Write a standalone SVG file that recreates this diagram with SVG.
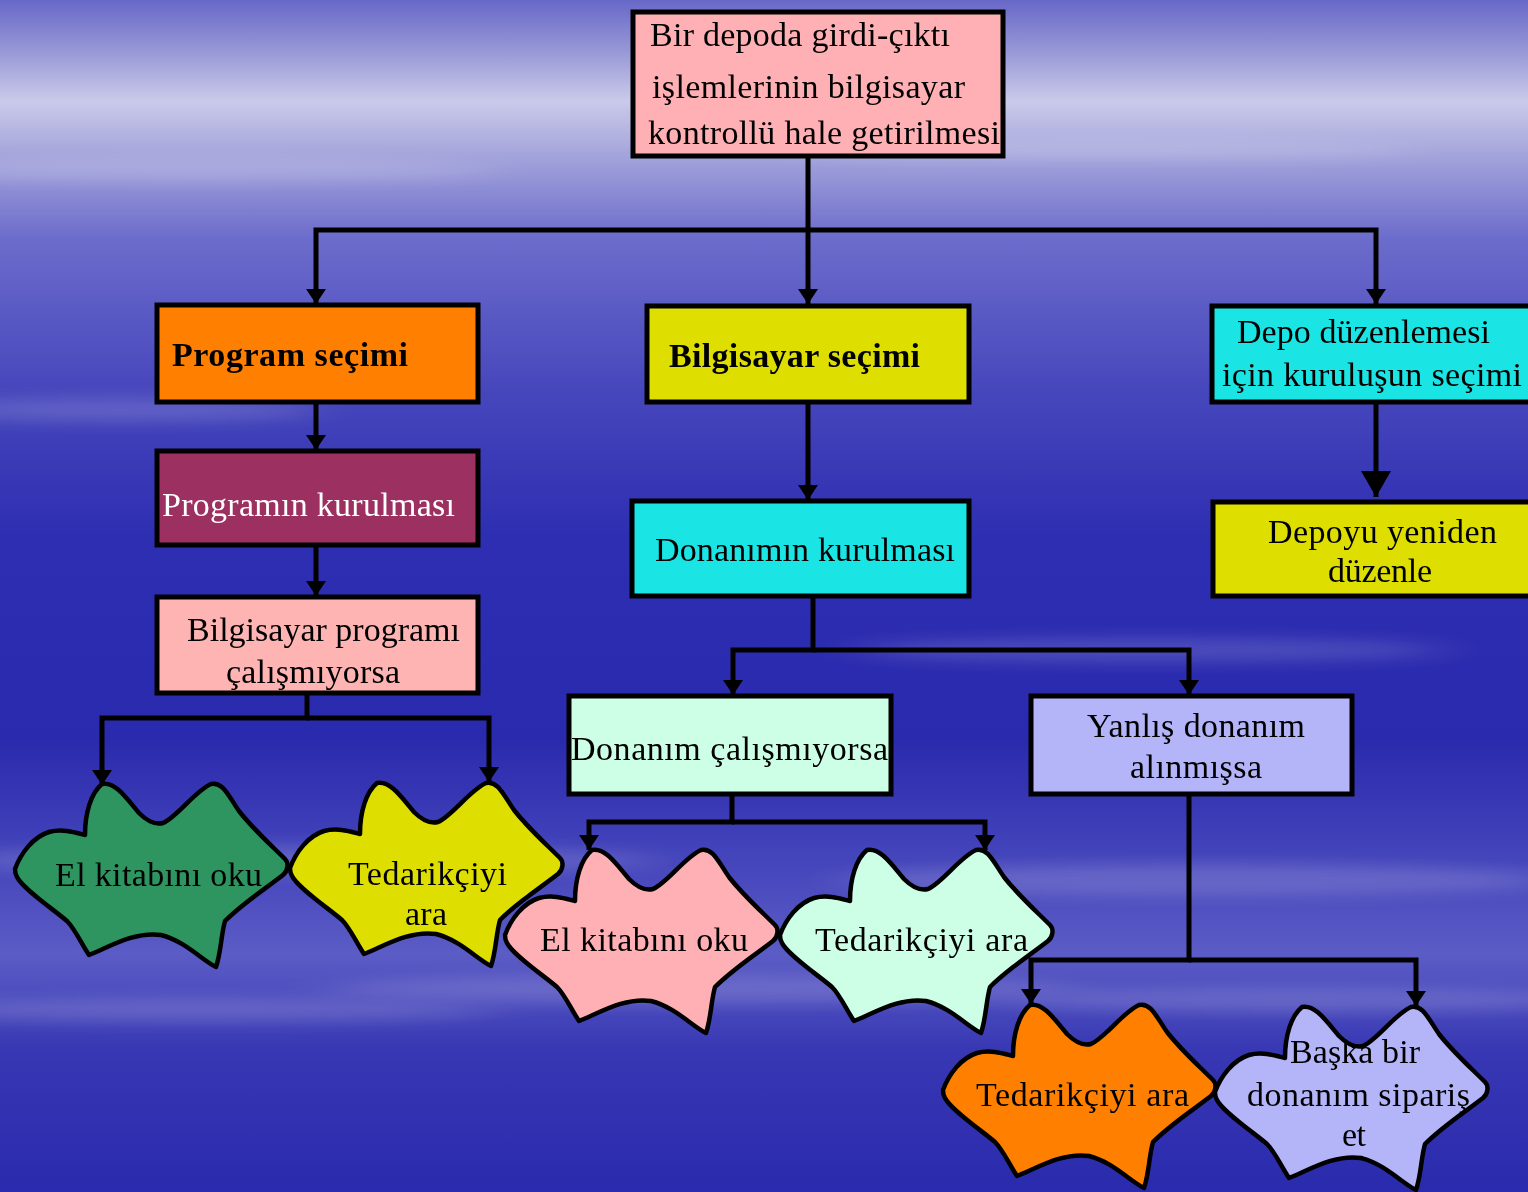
<svg xmlns="http://www.w3.org/2000/svg" width="1528" height="1192" viewBox="0 0 1528 1192">
<defs>
<linearGradient id="bg" x1="0" y1="0" x2="0" y2="1">
<stop offset="0" stop-color="#6868c8"/>
<stop offset="0.04" stop-color="#9494d6"/>
<stop offset="0.085" stop-color="#cacaea"/>
<stop offset="0.13" stop-color="#a4a4dc"/>
<stop offset="0.2" stop-color="#6c6ccc"/>
<stop offset="0.33" stop-color="#4646bc"/>
<stop offset="0.45" stop-color="#2e2eb2"/>
<stop offset="0.62" stop-color="#2a2aae"/>
<stop offset="0.74" stop-color="#4a4abe"/>
<stop offset="0.8" stop-color="#5c5cc6"/>
<stop offset="0.88" stop-color="#3838b4"/>
<stop offset="1" stop-color="#2a2aae"/>
</linearGradient>
<filter id="blur" x="-30%" y="-300%" width="160%" height="700%">
<feGaussianBlur stdDeviation="30 8"/>
</filter>
<marker id="arr" markerUnits="userSpaceOnUse" markerWidth="22" markerHeight="22" refX="15" refY="10" orient="auto">
<path d="M0,0 L15,10 L0,20 Z" fill="#000"/>
</marker>
<marker id="arrBig" markerUnits="userSpaceOnUse" markerWidth="30" markerHeight="30" refX="26" refY="15" orient="auto">
<path d="M0,0 L26,15 L0,30 Z" fill="#000"/>
</marker>
<path id="wave" d="M0,86 C6,70 18,54 34,49 C48,45 62,50 70,52 C70,30 76,10 87,1 C100,-2 112,16 124,30 C132,38 140,42 148,40 C162,34 180,8 196,1 C208,-2 214,14 224,28 C238,46 256,62 270,76 C274,80 273,88 268,92 C250,106 228,120 210,138 C206,152 206,170 201,184 C188,178 170,158 146,152 C120,148 94,164 74,172 C66,160 60,146 52,138 C38,126 8,106 2,94 C0,91 0,88 0,86 Z"/>
</defs>
<style>
.box{stroke:#000;stroke-width:5}
.wv{stroke:#000;stroke-width:4.5;stroke-linejoin:round}
.t{font-family:"Liberation Serif","Times New Roman",serif;font-size:34px;fill:#000}
.b{font-weight:bold}
.w{fill:#fff}
.c{fill:none;stroke:#000;stroke-width:5}
.streak{fill:#fff;filter:url(#blur)}
</style>
<rect x="0" y="0" width="1528" height="1192" fill="url(#bg)"/>
<g opacity="0.16">
<ellipse class="streak" cx="200" cy="170" rx="300" ry="12"/>
<ellipse class="streak" cx="1100" cy="150" rx="320" ry="10"/>
<ellipse class="streak" cx="120" cy="410" rx="200" ry="12"/>
<ellipse class="streak" cx="1150" cy="650" rx="300" ry="12"/>
<ellipse class="streak" cx="300" cy="860" rx="360" ry="14"/>
<ellipse class="streak" cx="1200" cy="880" rx="360" ry="16"/>
<ellipse class="streak" cx="700" cy="990" rx="380" ry="14"/>
<ellipse class="streak" cx="200" cy="1010" rx="300" ry="12"/>
<ellipse class="streak" cx="1300" cy="1000" rx="300" ry="12"/>
</g>

<g id="n-root">
<rect class="box" x="633" y="12" width="370" height="144" fill="#ffb0b4"/>
<text class="t" x="650" y="46" textLength="300">Bir depoda girdi-çıktı</text>
<text class="t" x="652" y="98" textLength="313">işlemlerinin bilgisayar</text>
<text class="t" x="648" y="144" textLength="352">kontrollü hale getirilmesi</text>
</g>

<g id="n-program">
<rect class="box" x="157" y="305" width="321" height="97" fill="#ff8000"/>
<text class="t b" x="172" y="366" textLength="236">Program seçimi</text>
</g>

<g id="n-bilgisayar">
<rect class="box" x="647" y="306" width="322" height="96" fill="#dede00"/>
<text class="t b" x="669" y="367" textLength="251">Bilgisayar seçimi</text>
</g>

<g id="n-depo">
<rect class="box" x="1212" y="306" width="330" height="96" fill="#1ae4e4"/>
<text class="t" x="1237" y="343" textLength="253">Depo düzenlemesi</text>
<text class="t" x="1222" y="386" textLength="300">için kuruluşun seçimi</text>
</g>

<g id="n-programkur">
<rect class="box" x="157" y="451" width="321" height="94" fill="#9c3060"/>
<text class="t w" x="162" y="516" textLength="293">Programın kurulması</text>
</g>

<g id="n-programcalis">
<rect class="box" x="157" y="597" width="321" height="96" fill="#ffb4b4"/>
<text class="t" x="187" y="641" textLength="273">Bilgisayar programı</text>
<text class="t" x="226" y="683" textLength="174">çalışmıyorsa</text>
</g>

<g id="n-donanimkur">
<rect class="box" x="632" y="501" width="337" height="95" fill="#1ae4e4"/>
<text class="t" x="655" y="561" textLength="300">Donanımın kurulması</text>
</g>

<g id="n-depoyu">
<rect class="box" x="1213" y="502" width="330" height="94" fill="#dede00"/>
<text class="t" x="1268" y="543" textLength="229">Depoyu yeniden</text>
<text class="t" x="1328" y="582" textLength="104">düzenle</text>
</g>

<g id="n-donanimcalis">
<rect class="box" x="569" y="696" width="322" height="98" fill="#ccffe6"/>
<text class="t" x="571" y="760" textLength="317">Donanım çalışmıyorsa</text>
</g>

<g id="n-yanlis">
<rect class="box" x="1031" y="696" width="321" height="98" fill="#b4b4f8"/>
<text class="t" x="1087" y="737" textLength="218">Yanlış donanım</text>
<text class="t" x="1130" y="778" textLength="132">alınmışsa</text>
</g>

<g id="n-elkitabi1">
<use href="#wave" class="wv" x="15" y="783" fill="#2e9460"/>
<text class="t" x="55" y="886" textLength="207">El kitabını oku</text>
</g>

<g id="n-tedarik1">
<use href="#wave" class="wv" x="290" y="782" fill="#dede00"/>
<text class="t" x="348" y="885" textLength="159">Tedarikçiyi</text>
<text class="t" x="405" y="925" textLength="42">ara</text>
</g>

<g id="n-elkitabi2">
<use href="#wave" class="wv" x="505" y="849" fill="#ffb0b4"/>
<text class="t" x="540" y="951" textLength="208">El kitabını oku</text>
</g>

<g id="n-tedarik2">
<use href="#wave" class="wv" x="780" y="849" fill="#ccffe6"/>
<text class="t" x="815" y="951" textLength="213">Tedarikçiyi ara</text>
</g>

<g id="n-tedarik3">
<use href="#wave" class="wv" x="943" y="1004" fill="#ff8000"/>
<text class="t" x="976" y="1106" textLength="213">Tedarikçiyi ara</text>
</g>

<g id="n-baska">
<use href="#wave" class="wv" x="1215" y="1006" fill="#b4b4f8"/>
<text class="t" x="1290" y="1063" textLength="130">Başka bir</text>
<text class="t" x="1247" y="1106" textLength="223">donanım sipariş</text>
<text class="t" x="1342" y="1146" textLength="24">et</text>
</g>

<g id="connectors">
<path class="c" d="M808,157 V304" marker-end="url(#arr)"/>
<path class="c" d="M808,230 H316 V304" marker-end="url(#arr)"/>
<path class="c" d="M808,230 H1376 V304" marker-end="url(#arr)"/>
<path class="c" d="M316,403 V450" marker-end="url(#arr)"/>
<path class="c" d="M316,546 V596" marker-end="url(#arr)"/>
<path class="c" d="M307,694 V718 H102 V785" marker-end="url(#arr)"/>
<path class="c" d="M307,718 H489 V782" marker-end="url(#arr)"/>
<path class="c" d="M808,402 V500" marker-end="url(#arr)"/>
<path class="c" d="M1376,403 V497" marker-end="url(#arrBig)"/>
<path class="c" d="M813,597 V650 H733 V695" marker-end="url(#arr)"/>
<path class="c" d="M813,650 H1189 V695" marker-end="url(#arr)"/>
<path class="c" d="M732,795 V822 H589 V850" marker-end="url(#arr)"/>
<path class="c" d="M732,822 H985 V850" marker-end="url(#arr)"/>
<path class="c" d="M1189,795 V960 H1031 V1004" marker-end="url(#arr)"/>
<path class="c" d="M1189,960 H1416 V1006" marker-end="url(#arr)"/>
</g>
</svg>
